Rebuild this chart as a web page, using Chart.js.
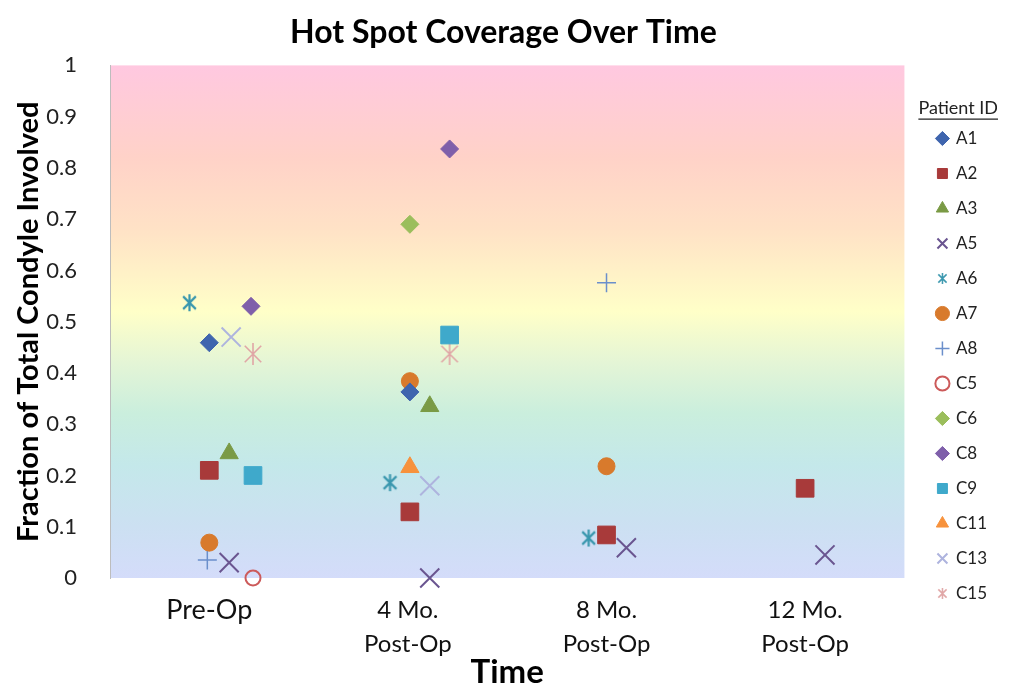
<!DOCTYPE html>
<html lang="en">
<head>
  <meta charset="UTF-8" />
  <title>Hot Spot Coverage Over Time</title>
  <script src="https://cdn.jsdelivr.net/npm/chart.js"></script>
  <style>
    html, body { margin: 0; padding: 0; background: #fff; }
    .chart-box { width: 1009px; height: 686px; }
  </style>
</head>
<body>
  <div class="chart-box"><canvas id="spotChart"></canvas></div>

  <script>
    // x axis: time points (1..4), labels under each
    const timeLabels = ['Pre-Op', ['4 Mo.', 'Post-Op'], ['8 Mo.', 'Post-Op'], ['12 Mo.', 'Post-Op']];
    const timeValues = [1, 2, 3, 4];

    // points per patient (x is the slightly offset time position)
    const xA1 = [1.0, 2.01];              const yA1 = [0.459, 0.363];
    const xA2 = [1.0, 2.01, 3.0, 4.0];    const yA2 = [0.21, 0.129, 0.084, 0.175];
    const xA3 = [1.1, 2.11];              const yA3 = [0.243, 0.335];
    const xA5 = [1.1, 2.11, 3.1, 4.1];    const yA5 = [0.03, 0.0, 0.059, 0.045];
    const xA6 = [0.9, 1.91, 2.91];        const yA6 = [0.537, 0.186, 0.078];
    const xA7 = [1.0, 2.01, 3.0];         const yA7 = [0.069, 0.384, 0.218];
    const xA8 = [0.99, 3.0];              const yA8 = [0.035, 0.576];
    const xC5 = [1.22];                   const yC5 = [0.0];
    const xC6 = [2.01];                   const yC6 = [0.69];
    const xC8 = [1.21, 2.21];             const yC8 = [0.53, 0.837];
    const xC9 = [1.22, 2.21];             const yC9 = [0.2, 0.474];
    const xC11 = [2.01];                  const yC11 = [0.216];
    const xC13 = [1.11, 2.11];            const yC13 = [0.47, 0.18];
    const xC15 = [1.22, 2.21];            const yC15 = [0.437, 0.437];

    const FONT = 'Lato, "Open Sans", sans-serif';

    // excel-like asterisk marker (vertical bar + X)
    function asterisk(size, color, lw) {
      const c = document.createElement('canvas');
      c.width = c.height = size;
      const g = c.getContext('2d');
      const m = size / 2, r = size / 2 - 1, d = r * 0.75;
      g.strokeStyle = color;
      g.lineWidth = lw;
      g.beginPath();
      g.moveTo(m, m - r); g.lineTo(m, m + r);
      g.moveTo(m - d, m - d); g.lineTo(m + d, m + d);
      g.moveTo(m + d, m - d); g.lineTo(m - d, m + d);
      g.stroke();
      return c;
    }

    function pts(xs, ys) {
      return xs.map((x, i) => ({ x: x, y: ys[i] }));
    }

    function series(label, xs, ys, style, color, radius, extra) {
      return Object.assign({
        label: label,
        data: pts(xs, ys),
        pointStyle: style,
        pointRadius: radius,
        pointHoverRadius: radius,
        backgroundColor: color,
        borderColor: color,
        borderWidth: 1,
        showLine: false,
        clip: false
      }, extra || {});
    }

    const smallStar = {
      A6: asterisk(13, '#3A97AE', 1.5),
      C15: asterisk(13, '#E0A6A6', 1.5)
    };

    const datasets = [
      series('A1', xA1, yA1, 'rectRot', '#3F65AE', 9),
      series('A2', xA2, yA2, 'rect', '#A83A3A', 12.5),
      series('A3', xA3, yA3, 'triangle', '#7A9A45', 10.5),
      series('A5', xA5, yA5, 'crossRot', '#6A5590', 13.5, { borderWidth: 2 }),
      series('A6', xA6, yA6, asterisk(19, '#3A97AE', 2.2), '#3A97AE', 9),
      series('A7', xA7, yA7, 'circle', '#D87A2C', 8.5),
      series('A8', xA8, yA8, 'cross', '#6B8FCB', 9.5, { borderWidth: 1.5 }),
      series('C5', xC5, yC5, 'circle', '#CC5A5A', 7.5, { backgroundColor: 'rgba(0,0,0,0)', borderWidth: 2 }),
      series('C6', xC6, yC6, 'rectRot', '#9BBE5C', 9),
      series('C8', xC8, yC8, 'rectRot', '#7F5FAA', 9),
      series('C9', xC9, yC9, 'rect', '#3FA9CB', 12.5),
      series('C11', xC11, yC11, 'triangle', '#F7923C', 10.5),
      series('C13', xC13, yC13, 'crossRot', '#AEB4DE', 13.5, { borderWidth: 2 }),
      series('C15', xC15, yC15, asterisk(24, '#E0A6A6', 1.6), '#E0A6A6', 12)
    ];

    // pastel band behind the plot
    const bgPlugin = {
      id: 'bgBand',
      beforeDraw(chart) {
        const { ctx, chartArea: a } = chart;
        const g = ctx.createLinearGradient(0, a.bottom, 0, a.top);
        g.addColorStop(0.0, '#D4DCFA');
        g.addColorStop(0.1, '#CCE0F2');
        g.addColorStop(0.22, '#C4E8EA');
        g.addColorStop(0.32, '#CAEEDD');
        g.addColorStop(0.42, '#E4F5D6');
        g.addColorStop(0.52, '#FFFFC8');
        g.addColorStop(0.68, '#FFE2C6');
        g.addColorStop(0.82, '#FFD2C8');
        g.addColorStop(1.0, '#FFC8E0');
        ctx.save();
        ctx.fillStyle = g;
        ctx.fillRect(a.left, a.top, a.right - a.left, a.bottom - a.top);
        ctx.restore();
      }
    };

    // underline the legend title
    const underlinePlugin = {
      id: 'legendUnderline',
      afterDraw(chart) {
        const lg = chart.legend;
        const t = lg.options.title;
        const size = t.font.size;
        const ctx = chart.ctx;
        ctx.save();
        ctx.font = size + 'px ' + FONT;
        const w = ctx.measureText(t.text).width;
        const cx = lg.left + lg.width / 2;
        const cy = lg.top + t.padding.top + size / 2;
        ctx.strokeStyle = '#222';
        ctx.lineWidth = 1.2;
        ctx.beginPath();
        ctx.moveTo(cx - w / 2, cy + size * 0.62);
        ctx.lineTo(cx + w / 2, cy + size * 0.62);
        ctx.stroke();
        ctx.restore();
      }
    };

    new Chart(document.getElementById('spotChart'), {
      type: 'scatter',
      data: { datasets },
      plugins: [bgPlugin, underlinePlugin],
      options: {
        responsive: true,
        maintainAspectRatio: false,
        animation: false,
        layout: { padding: { left: 10, right: 12, top: 0, bottom: 0 } },
        plugins: {
          title: {
            display: true,
            text: 'Hot Spot Coverage Over Time',
            color: '#000',
            font: { family: FONT, size: 32, weight: 'bold' },
            padding: { top: 13, bottom: 14 }
          },
          legend: {
            position: 'right',
            align: 'start',
            title: {
              display: true,
              text: 'Patient ID',
              color: '#222',
              font: { family: FONT, size: 18, lineHeight: 1.0 },
              padding: { top: 99, bottom: -5 }
            },
            labels: {
              usePointStyle: true,
              boxWidth: 10,
              boxHeight: 10,
              padding: 18,
              color: '#222',
              font: { family: FONT, size: 17 },
              generateLabels(chart) {
                const items = Chart.defaults.plugins.legend.labels.generateLabels(chart);
                items.forEach(it => {
                  if (smallStar[it.text]) it.pointStyle = smallStar[it.text];
                });
                return items;
              }
            }
          },
          tooltip: { enabled: false }
        },
        scales: {
          x: {
            type: 'linear',
            min: 0.5,
            max: 4.5,
            afterBuildTicks(scale) {
              scale.ticks = timeValues.map(v => ({ value: v }));
            },
            afterFit(scale) { scale.height = 108; },
            ticks: {
              autoSkip: false,
              maxRotation: 0,
              padding: 7,
              color: '#111',
              font: (c) => c.index === 0
                ? { family: FONT, size: 27, lineHeight: 1.26 }
                : { family: FONT, size: 24, lineHeight: 1.42 },
              callback: (v, i) => timeLabels[i]
            },
            grid: { display: false },
            border: { display: false },
            title: {
              display: true,
              text: 'Time',
              color: '#000',
              font: { family: FONT, size: 33, weight: 'bold', lineHeight: 0.85 },
              padding: { top: 0, bottom: 0 }
            }
          },
          y: {
            min: 0,
            max: 1,
            afterFit(scale) { scale.width = 100; },
            ticks: {
              stepSize: 0.1,
              padding: 25,
              color: '#222',
              font: { family: FONT, size: 22 },
              callback: (v) => String(Number(v.toFixed(1)))
            },
            grid: { display: false },
            border: { display: true, color: '#bdbdbd' },
            title: {
              display: true,
              text: 'Fraction of Total Condyle Involved',
              color: '#000',
              font: { family: FONT, size: 29, weight: 'bold' },
              padding: { top: 1, bottom: 0 }
            }
          },
          gap: {
            position: 'right',
            afterFit(scale) { scale.width = 15; },
            ticks: { display: false },
            grid: { display: false },
            border: { display: false }
          }
        }
      }
    });
  </script>
</body>
</html>
